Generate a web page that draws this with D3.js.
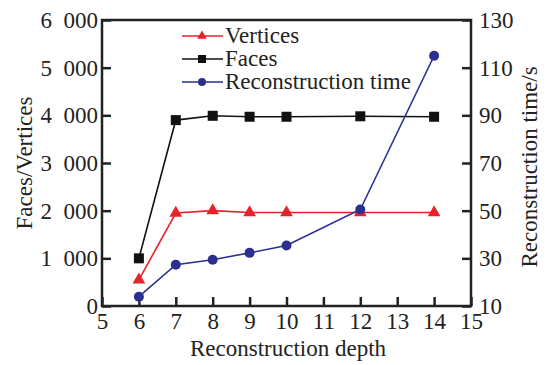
<!DOCTYPE html>
<html><head><meta charset="utf-8">
<script src="https://cdn.jsdelivr.net/npm/d3@7"></script>
<style>body{margin:0;background:#fff}svg{display:block}text{font-family:"Liberation Serif","DejaVu Serif",serif;fill:#222}</style>
</head><body>
<script>
const depth = [6, 7, 8, 9, 10, 12, 14];
const vertices = [550, 1950, 2000, 1960, 1960, 1960, 1960];
const faces = [1000, 3900, 3990, 3970, 3970, 3980, 3970];
const recTime = [13.9, 27.3, 29.4, 32.3, 35.4, 50.5, 115];
const xTicks = [5,6,7,8,9,10,11,12,13,14,15];
const yLeftTicks = [0,1000,2000,3000,4000,5000,6000];
const yRightTicks = [10,30,50,70,90,110,130];

const W=547,H=365, L=102,R=471,T=20,B=306;
const svg=d3.select("body").append("svg").attr("width",W).attr("height",H);
const x=d3.scaleLinear().domain([5,15]).range([L,R]);
const yl=d3.scaleLinear().domain([0,6000]).range([B,T]);
const yr=d3.scaleLinear().domain([10,130]).range([B,T]);
const fmt=d => d>=1000 ? d3.format(",")(d).replace(",","\u2002") : String(d);

function styleAxis(g){
  g.select(".domain").remove();
  g.selectAll(".tick line").attr("stroke","#222").attr("stroke-width",2.5);
  g.selectAll(".tick text").style("font-size","23px").attr("fill","#222");
}
svg.append("g").attr("transform",`translate(0,${B})`)
  .call(d3.axisBottom(x).tickValues(xTicks).tickSize(-9).tickPadding(7)).call(styleAxis);
svg.append("g").attr("transform",`translate(${L},0)`)
  .call(d3.axisLeft(yl).tickValues(yLeftTicks).tickSize(-9).tickPadding(4).tickFormat(fmt)).call(styleAxis);
svg.append("g").attr("transform",`translate(${R},0)`)
  .call(d3.axisRight(yr).tickValues(yRightTicks).tickSize(-9).tickPadding(8)).call(styleAxis);
svg.append("rect").attr("x",L).attr("y",T).attr("width",R-L).attr("height",B-T)
  .attr("fill","none").attr("stroke","#222").attr("stroke-width",2.5);

const red="#e8212b", blk="#111", blue="#2b2f8f";
const tri=d3.symbol().type(d3.symbolTriangle);
function series(vals, yS, color, marker){
  const pts=depth.map((d,i)=>[x(d),yS(vals[i])]);
  svg.append("path").attr("d",d3.line()(pts)).attr("fill","none").attr("stroke",color).attr("stroke-width",1.6);
  pts.forEach(p=>marker(p[0],p[1],color,false));
}
function mTri(cx,cy,c,small){ svg.append("path").attr("d",tri.size(small?40:70)()).attr("transform",`translate(${cx},${cy})`).attr("fill",c);}
function mSq(cx,cy,c,small){ const s=small?8:10; svg.append("rect").attr("x",cx-s/2).attr("y",cy-s/2).attr("width",s).attr("height",s).attr("fill",c);}
function mCi(cx,cy,c,small){ svg.append("circle").attr("cx",cx).attr("cy",cy).attr("r",small?4:5).attr("fill",c);}

series(vertices, yl, red, mTri);
series(faces, yl, blk, mSq);
series(recTime, yr, blue, mCi);

const legend=[["Vertices",red,mTri],["Faces",blk,mSq],["Reconstruction time",blue,mCi]];
legend.forEach((d,i)=>{
  const y=36+i*23;
  svg.append("line").attr("x1",182).attr("x2",223).attr("y1",y).attr("y2",y).attr("stroke",d[1]).attr("stroke-width",1.6);
  d[2](202,y,d[1],true);
  svg.append("text").attr("x",225).attr("y",y+7).style("font-size","23px").text(d[0]);
});

svg.append("text").attr("x",288).attr("y",356).attr("text-anchor","middle").style("font-size","23px").text("Reconstruction depth");
svg.append("text").attr("transform",`translate(32,163) rotate(-90)`).attr("text-anchor","middle").style("font-size","23px").text("Faces/Vertices");
svg.append("text").attr("transform",`translate(537,167) rotate(-90)`).attr("text-anchor","middle").style("font-size","23px").text("Reconstruction time/s");
</script>
</body></html>
